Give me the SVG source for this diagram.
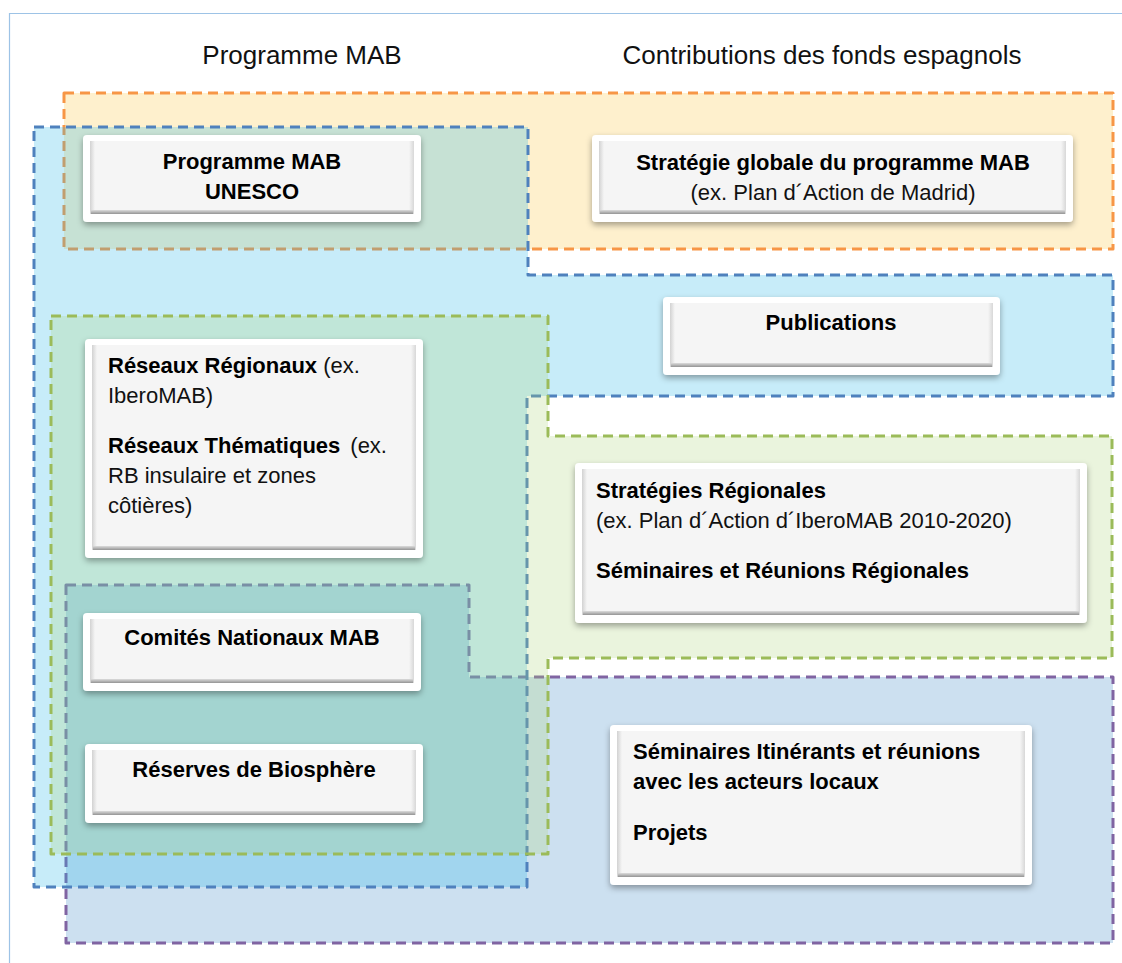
<svg xmlns="http://www.w3.org/2000/svg" width="1122" height="963" viewBox="0 0 1122 963">
<defs>
<filter id="sh" x="-10%" y="-20%" width="120%" height="150%">
<feDropShadow dx="0" dy="3" stdDeviation="3" flood-color="#000" flood-opacity="0.35"/>
</filter>
<linearGradient id="gl" x1="0" y1="0" x2="1" y2="0"><stop offset="0" stop-color="#d2d2d2"/><stop offset="1" stop-color="#f5f5f5"/></linearGradient>
<linearGradient id="gr" x1="0" y1="0" x2="1" y2="0"><stop offset="0" stop-color="#f5f5f5"/><stop offset="1" stop-color="#d8d8d8"/></linearGradient>
<linearGradient id="gb" x1="0" y1="0" x2="0" y2="1"><stop offset="0" stop-color="#dcdcdc"/><stop offset="1" stop-color="#949494"/></linearGradient>
<style>
.zone{stroke-width:3;stroke-dasharray:10 6;stroke-linejoin:round}
.or{fill:#FEF0CD;stroke:#F79646}
.pu{fill:#CCE0F0;stroke:#8064A2}
.bl{fill:rgb(39,181,233);fill-opacity:0.26;stroke:#4F81BD}
.gn{fill:rgb(170,210,120);fill-opacity:0.25;stroke:#9BBB59}
.outer{fill:#fff;filter:url(#sh)}
.face{fill:#F5F5F5}
.bvl{fill:url(#gl)}
.bvr{fill:url(#gr)}
.bvb{fill:url(#gb)}
.title{font-family:"Liberation Sans",Arial,sans-serif;font-size:26px;fill:#111;text-anchor:middle}
.t{font-family:"Liberation Sans",Arial,sans-serif;font-size:22px;fill:#111}
.b{font-weight:bold;fill:#000}
.c{text-anchor:middle}
</style>
</defs>
<rect width="1122" height="963" fill="#fff"/>
<path d="M9.5,963 V13.5 H1122" fill="none" stroke="#9DC3E6" stroke-width="1.2"/>
<text class="title" x="302" y="64">Programme MAB</text>
<text class="title" x="822" y="64">Contributions des fonds espagnols</text>

<g id="zones">
<rect class="zone or" x="64" y="93" width="1049" height="156"/>
<path class="zone pu" d="M66,585 H469 V677 H1113 V943 H66 Z"/>
<path class="zone bl" d="M34,127 H528 V275 H1113 V396 H527 V887 H34 Z"/>
<path class="zone gn" d="M51,316 H548 V436 H1112 V658 H548 V854 H51 Z"/>
</g>

<g id="n1">
<rect class="outer" x="83" y="135" width="338" height="87" rx="4"/>
<rect class="face" x="90" y="141" width="324" height="73"/>
<rect class="bvl" x="90" y="141" width="5" height="73"/>
<rect class="bvr" x="409" y="141" width="5" height="73"/>
<rect class="bvb" x="91" y="210" width="322" height="4"/>
<text class="t b c" x="252" y="169">Programme MAB</text>
<text class="t b c" x="252" y="199">UNESCO</text>
</g>

<g id="n2">
<rect class="outer" x="592" y="135" width="481" height="87" rx="4"/>
<rect class="face" x="599" y="141" width="467" height="73"/>
<rect class="bvl" x="599" y="141" width="5" height="73"/>
<rect class="bvr" x="1061" y="141" width="5" height="73"/>
<rect class="bvb" x="600" y="210" width="465" height="4"/>
<text class="t b c" x="833" y="170">Stratégie globale du programme MAB</text>
<text class="t c" x="833" y="200">(ex. Plan d´Action de Madrid)</text>
</g>

<g id="n3">
<rect class="outer" x="663" y="297" width="337" height="78" rx="4"/>
<rect class="face" x="670" y="303" width="323" height="64"/>
<rect class="bvl" x="670" y="303" width="5" height="64"/>
<rect class="bvr" x="988" y="303" width="5" height="64"/>
<rect class="bvb" x="671" y="363" width="321" height="4"/>
<text class="t b c" x="831" y="330">Publications</text>
</g>

<g id="n4">
<rect class="outer" x="85" y="339" width="338" height="219" rx="4"/>
<rect class="face" x="92" y="345" width="324" height="205"/>
<rect class="bvl" x="92" y="345" width="5" height="205"/>
<rect class="bvr" x="411" y="345" width="5" height="205"/>
<rect class="bvb" x="93" y="546" width="322" height="4"/>
<text class="t" x="108" y="373"><tspan class="b">Réseaux Régionaux</tspan> (ex.</text>
<text class="t" x="108" y="403">IberoMAB)</text>
<text class="t" x="108" y="453"><tspan class="b">Réseaux Thématiques</tspan><tspan dx="10">(ex.</tspan></text>
<text class="t" x="108" y="483">RB insulaire et zones</text>
<text class="t" x="108" y="513">côtières)</text>
</g>

<g id="n5">
<rect class="outer" x="575" y="463" width="512" height="160" rx="4"/>
<rect class="face" x="582" y="469" width="498" height="146"/>
<rect class="bvl" x="582" y="469" width="5" height="146"/>
<rect class="bvr" x="1075" y="469" width="5" height="146"/>
<rect class="bvb" x="583" y="611" width="496" height="4"/>
<text class="t b" x="596" y="498">Stratégies Régionales</text>
<text class="t" x="596" y="528">(ex. Plan d´Action d´IberoMAB 2010-2020)</text>
<text class="t b" x="596" y="578">Séminaires et Réunions Régionales</text>
</g>

<g id="n6">
<rect class="outer" x="83" y="613" width="338" height="78" rx="4"/>
<rect class="face" x="90" y="619" width="324" height="64"/>
<rect class="bvl" x="90" y="619" width="5" height="64"/>
<rect class="bvr" x="409" y="619" width="5" height="64"/>
<rect class="bvb" x="91" y="679" width="322" height="4"/>
<text class="t b c" x="252" y="645">Comités Nationaux MAB</text>
</g>

<g id="n7">
<rect class="outer" x="85" y="744" width="338" height="79" rx="4"/>
<rect class="face" x="92" y="750" width="324" height="65"/>
<rect class="bvl" x="92" y="750" width="5" height="65"/>
<rect class="bvr" x="411" y="750" width="5" height="65"/>
<rect class="bvb" x="93" y="811" width="322" height="4"/>
<text class="t b c" x="254" y="777">Réserves de Biosphère</text>
</g>

<g id="n8">
<rect class="outer" x="610" y="725" width="422" height="160" rx="4"/>
<rect class="face" x="617" y="731" width="408" height="146"/>
<rect class="bvl" x="617" y="731" width="5" height="146"/>
<rect class="bvr" x="1020" y="731" width="5" height="146"/>
<rect class="bvb" x="618" y="873" width="406" height="4"/>
<text class="t b" x="633" y="759">Séminaires Itinérants et réunions</text>
<text class="t b" x="633" y="789">avec les acteurs locaux</text>
<text class="t b" x="633" y="840">Projets</text>
</g>
</svg>
